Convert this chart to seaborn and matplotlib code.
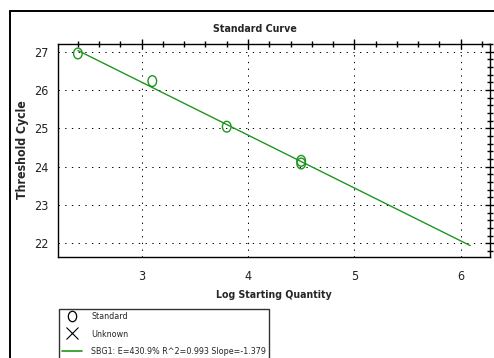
import numpy as np
import pandas as pd
import seaborn as sns
import matplotlib
matplotlib.use("Agg")
import matplotlib.pyplot as plt
from matplotlib.lines import Line2D
from matplotlib.path import Path
from matplotlib.transforms import Affine2D
from matplotlib.ticker import MultipleLocator

# Standard dilution series (log10 starting quantity vs. threshold cycle)
log_quantity = [2.40, 3.10, 3.80, 4.50, 4.50]
threshold_cycle = [26.95, 26.23, 25.04, 24.15, 24.08]

# Regression line as reported by the instrument software
fit_slope = -1.379
fit_efficiency = 430.9
fit_r2 = 0.993
fit_x_range = [2.40, 6.09]

x_ticks = [3, 4, 5, 6]
y_ticks = [22, 23, 24, 25, 26, 27]

GREEN = "#1e961e"
W, H = 494, 358

sns.set_style("white")
plt.rcParams["font.family"] = ["DejaVu Sans"]
plt.rcParams["font.stretch"] = "condensed"

fig = plt.figure(figsize=(W / 100, H / 100), dpi=100)
ax = fig.add_axes([58 / W, 1 - 256.5 / H, (490 - 58) / W, (256.5 - 43.5) / H])

pts = pd.DataFrame({"x": log_quantity, "y": threshold_cycle})
# intercept chosen so the reported slope passes through the centroid of the standards
intercept = np.mean(threshold_cycle) - fit_slope * np.mean(log_quantity)
line = pd.DataFrame({"x": fit_x_range})
line["y"] = fit_slope * line["x"] + intercept

ellipse = Path.unit_circle().transformed(Affine2D().scale(0.8, 1.0))

sns.lineplot(data=line, x="x", y="y", ax=ax, color=GREEN, linewidth=1.0, zorder=3)
sns.scatterplot(data=pts, x="x", y="y", ax=ax, marker=ellipse, s=60,
                facecolor="none", edgecolor=GREEN, linewidth=1.0, zorder=4)

ax.set_xlim(2.213, 6.276)
ax.set_ylim(21.655, 27.21)
ax.set_xticks(x_ticks)
ax.set_yticks(y_ticks)
ax.xaxis.set_minor_locator(MultipleLocator(0.2))
ax.yaxis.set_minor_locator(MultipleLocator(0.2))
ax.tick_params(which="both", direction="inout", top=True, right=True,
               color="black", width=1.0, labelsize=9, pad=3)
ax.tick_params(axis="x", which="major", pad=6)
ax.tick_params(which="major", length=7)
ax.tick_params(which="minor", length=4)
ax.tick_params(axis="both", labelcolor="#222222")
for sp in ax.spines.values():
    sp.set_color("black")
    sp.set_linewidth(1.0)

ax.grid(True, which="major", color="black", linewidth=0.72,
        linestyle=(0, (1.3, 5.4)))

ax.set_xlabel("Log Starting Quantity", fontsize=7.6, fontweight="bold")
ax.set_ylabel("Threshold Cycle", fontsize=8.8, fontweight="bold")
ax.xaxis.set_label_coords(0.5, -(295 - 256.5) / (256.5 - 43.5), transform=ax.transAxes)
ax.xaxis.label.set_va("center")
ax.yaxis.set_label_coords(-(58 - 22.5) / (490 - 58), 0.5, transform=ax.transAxes)
ax.yaxis.label.set_va("center")
fig.text(255 / W, 1 - 29 / H, "Standard Curve", ha="center", va="center",
         fontsize=7.7, fontweight="bold")

# outer frame of the chart panel
fig.add_artist(Line2D([9.5 / W, 9.5 / W], [0, 1 - 10.5 / H], transform=fig.transFigure,
                      color="black", linewidth=1.4))
fig.add_artist(Line2D([9.5 / W, 1], [1 - 10.5 / H, 1 - 10.5 / H], transform=fig.transFigure,
                      color="black", linewidth=1.4))

handles = [
    Line2D([], [], linestyle="none", marker=ellipse, markersize=7.5,
           markerfacecolor="none", markeredgecolor="black", markeredgewidth=0.9),
    Line2D([], [], linestyle="none", marker="x", markersize=8,
           markeredgecolor="black", markeredgewidth=0.8),
    Line2D([], [], color=GREEN, linewidth=1.2),
]
labels = ["Standard", "Unknown",
          f"SBG1: E={fit_efficiency}% R^2={fit_r2} Slope={fit_slope}"]
leg = fig.legend(handles, labels, loc="upper left",
                 bbox_to_anchor=(59 / W, 1 - 309 / H), borderaxespad=0,
                 fontsize=6.4, frameon=True, fancybox=False, shadow=False,
                 handlelength=2.2, handletextpad=1.1, labelspacing=0.95,
                 borderpad=0.35)
leg.get_frame().set_edgecolor("black")
leg.get_frame().set_linewidth(1.0)

fig.savefig("out.png", dpi=100)
